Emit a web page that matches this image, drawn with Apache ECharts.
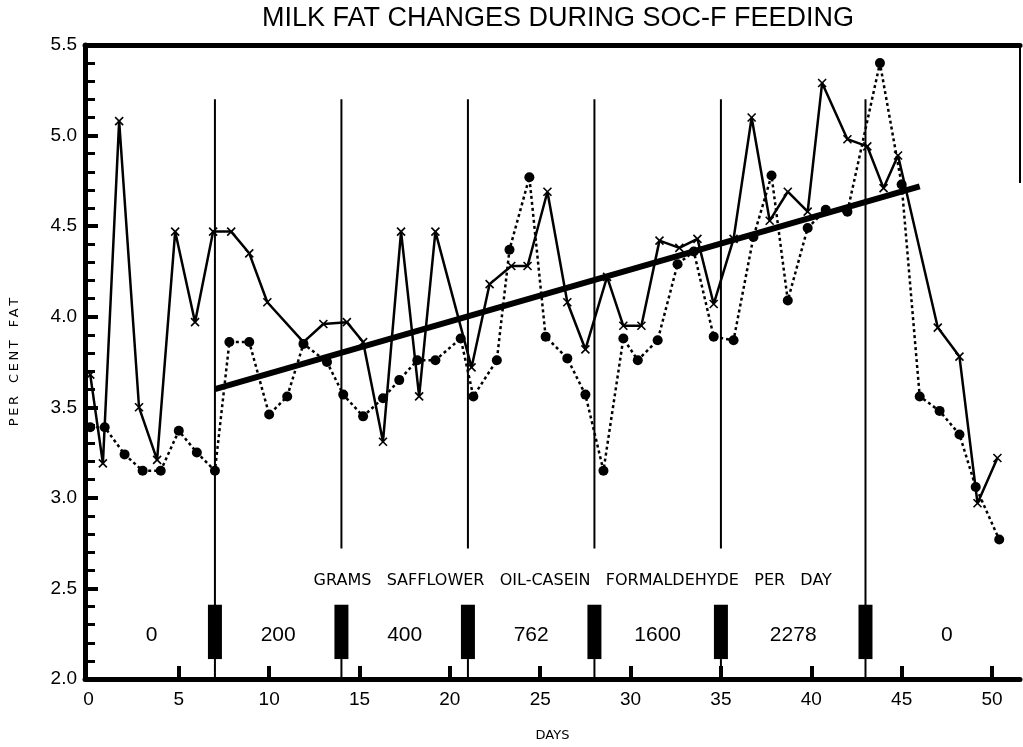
<!DOCTYPE html>
<html><head><meta charset="utf-8">
<script src="https://cdn.jsdelivr.net/npm/echarts@6/dist/echarts.min.js"></script>
<style>html,body{margin:0;padding:0;background:#fff}#c{width:1023px;height:747px}</style>
</head><body><div id="c"></div>
<script>
const titleText = 'MILK FAT CHANGES DURING SOC-F FEEDING';
const xTickValues = [0, 5, 10, 15, 20, 25, 30, 35, 40, 45, 50];
const xInnerTicks = [5, 10, 15, 20, 25, 30, 35, 40, 45, 50];

// solid line with x markers
const crossDays = [0.1, 0.8, 1.7, 2.8, 3.8, 4.8, 5.9, 6.9, 7.9, 8.9, 9.9, 11.9, 13.0, 14.3, 15.2, 16.3, 17.3, 18.3, 19.2, 21.2, 22.2, 23.4, 24.3, 25.4, 26.5, 27.5, 28.7, 29.6, 30.6, 31.6, 32.7, 33.7, 34.6, 35.7, 36.7, 37.7, 38.7, 39.8, 40.6, 42.0, 43.1, 44.0, 44.8, 47.0, 48.2, 49.2, 50.3];
const crossFat = [3.68, 3.19, 5.08, 3.50, 3.21, 4.47, 3.97, 4.47, 4.47, 4.35, 4.08, 3.86, 3.96, 3.97, 3.86, 3.31, 4.47, 3.56, 4.47, 3.72, 4.18, 4.28, 4.28, 4.69, 4.08, 3.82, 4.22, 3.95, 3.95, 4.42, 4.38, 4.43, 4.07, 4.43, 5.10, 4.53, 4.69, 4.58, 5.29, 4.98, 4.94, 4.71, 4.89, 3.94, 3.78, 2.97, 3.22];

// dotted line with filled dots
const dotDays = [0.1, 0.9, 2.0, 3.0, 4.0, 5.0, 6.0, 7.0, 7.8, 8.9, 10.0, 11.0, 11.9, 13.2, 14.1, 15.2, 16.3, 17.2, 18.2, 19.2, 20.6, 21.3, 22.6, 23.3, 24.4, 25.3, 26.5, 27.5, 28.5, 29.6, 30.4, 31.5, 32.6, 33.5, 34.6, 35.7, 36.8, 37.8, 38.7, 39.8, 40.8, 42.0, 43.8, 45.0, 46.0, 47.1, 48.2, 49.1, 50.4];
const dotFat = [3.39, 3.39, 3.24, 3.15, 3.15, 3.37, 3.25, 3.15, 3.86, 3.86, 3.46, 3.56, 3.85, 3.75, 3.57, 3.45, 3.55, 3.65, 3.76, 3.76, 3.88, 3.56, 3.76, 4.37, 4.77, 3.89, 3.77, 3.57, 3.15, 3.88, 3.76, 3.87, 4.29, 4.36, 3.89, 3.87, 4.44, 4.78, 4.09, 4.49, 4.59, 4.58, 5.40, 4.73, 3.56, 3.48, 3.35, 3.06, 2.77];

// regression line
const trendDays = [7, 46];
const trendFat = [3.60, 4.72];

// feeding periods
const periodBounds = [0, 7, 14, 21, 28, 35, 43, 52];
const doseLabels = ['0', '200', '400', '762', '1600', '2278', '0'];
const doseCaption = 'GRAMS   SAFFLOWER   OIL-CASEIN   FORMALDEHYDE   PER   DAY';
const dividerTop = 5.2;
const blockRange = [2.11, 2.41];
const textGapTop = 2.72;
const captionPos = [26.8, 2.54];
const doseLabelY = 2.24;

const spaced = s => s.split('').join('\u2009');
const pair = (xs, ys) => xs.map((x, i) => [x, ys[i]]);
const changeDays = periodBounds.slice(1, -1);
const doseData = doseLabels.map((t, i) => [(periodBounds[i] + periodBounds[i + 1]) / 2, doseLabelY, t]);

const FONT = '"Liberation Sans", Arial, sans-serif';
const chart = echarts.init(document.getElementById('c'), null, {renderer: 'canvas'});

chart.setOption({
  backgroundColor: '#fff',
  animation: false,
  grid: {left: 85, right: 3, top: 45, bottom: 65, containLabel: false},
  graphic: [
    {type: 'text', x: 558, y: 19, style: {text: titleText, font: '27px ' + FONT, fill: '#000', textAlign: 'center', textVerticalAlign: 'middle'}},
    {type: 'line', shape: {x1: 1020, y1: 44, x2: 1020, y2: 183}, style: {stroke: '#000', lineWidth: 2}}
  ],
  xAxis: [{
    type: 'value', min: -0.19, max: 51.55, position: 'bottom',
    name: 'DAYS', nameLocation: 'middle', nameGap: 50,
    nameTextStyle: {fontFamily: '"DejaVu Sans", sans-serif', fontSize: 13, color: '#000'},
    axisLine: {show: true, onZero: false, lineStyle: {color: '#000', width: 5}},
    axisTick: {show: true, inside: true, length: 13, customValues: xInnerTicks, lineStyle: {color: '#000', width: 4}},
    axisLabel: {show: true, customValues: xTickValues, margin: 11, fontFamily: FONT, fontSize: 19, color: '#000'},
    splitLine: {show: false}
  }, {
    type: 'value', min: -0.19, max: 51.55, position: 'top',
    axisLine: {show: true, onZero: false, lineStyle: {color: '#000', width: 5}},
    axisTick: {show: false}, axisLabel: {show: false}, splitLine: {show: false}
  }],
  yAxis: {
    type: 'value', min: 2.0, max: 5.5, interval: 0.5,
    name: spaced('PER') + '\u2003' + spaced('CENT') + '\u2003' + spaced('FAT'), nameLocation: 'middle', nameGap: 64, nameRotate: 90,
    nameTextStyle: {fontFamily: '"DejaVu Sans", sans-serif', fontSize: 13, color: '#000'},
    axisLine: {show: true, onZero: false, lineStyle: {color: '#000', width: 5}},
    axisTick: {show: true, inside: true, length: 13, lineStyle: {color: '#000', width: 4}},
    minorTick: {show: true, splitNumber: 5, length: 10, lineStyle: {color: '#000', width: 3}},
    axisLabel: {margin: 8, fontFamily: FONT, fontSize: 19, color: '#000', formatter: v => v.toFixed(1)},
    splitLine: {show: false}
  },
  series: [
    {
      type: 'custom', name: 'dividers', silent: true, z: 1,
      data: changeDays.map(d => [d]),
      renderItem: (params, api) => {
        const d = api.value(0);
        const top = api.coord([d, dividerTop]);
        const bot = api.coord([d, 2.0]);
        const bTop = api.coord([d, blockRange[1]]);
        const bBot = api.coord([d, blockRange[0]]);
        const full = params.dataIndex === 0 || params.dataIndex === changeDays.length - 1;
        const children = [];
        const ls = {stroke: '#000', lineWidth: 2};
        if (full) {
          children.push({type: 'line', shape: {x1: top[0], y1: top[1], x2: bot[0], y2: bot[1]}, style: ls});
        } else {
          const gap = api.coord([d, textGapTop]);
          children.push({type: 'line', shape: {x1: top[0], y1: top[1], x2: gap[0], y2: gap[1]}, style: ls});
          children.push({type: 'line', shape: {x1: bBot[0], y1: bBot[1], x2: bot[0], y2: bot[1]}, style: ls});
        }
        children.push({type: 'rect', shape: {x: bTop[0] - 7, y: bTop[1], width: 14, height: bBot[1] - bTop[1]}, style: {fill: '#000'}});
        return {type: 'group', children};
      }
    },
    {
      type: 'custom', name: 'doses', silent: true, z: 2,
      data: doseData,
      renderItem: (params, api) => {
        const p = api.coord([api.value(0), api.value(1)]);
        return {type: 'text', x: p[0], y: p[1], style: {text: doseLabels[params.dataIndex], font: '21px ' + FONT, fill: '#000', textAlign: 'center', textVerticalAlign: 'middle'}};
      }
    },
    {
      type: 'custom', name: 'caption', silent: true, z: 2,
      data: [captionPos],
      renderItem: (params, api) => {
        const p = api.coord([api.value(0), api.value(1)]);
        return {type: 'text', x: p[0], y: p[1], style: {text: doseCaption, font: '16px "DejaVu Sans", sans-serif', fill: '#000', textAlign: 'center', textVerticalAlign: 'middle'}};
      }
    },
    {
      type: 'line', name: 'trend', data: pair(trendDays, trendFat), symbol: 'none', z: 3,
      lineStyle: {color: '#000', width: 6}
    },
    {
      type: 'line', name: 'dots', data: pair(dotDays, dotFat), z: 4,
      symbol: 'circle', symbolSize: 10,
      itemStyle: {color: '#000'},
      lineStyle: {color: '#000', width: 2.5, type: [3, 3]}
    },
    {
      type: 'line', name: 'crosses', data: pair(crossDays, crossFat), z: 5,
      symbol: 'path://M0,0L10,10M10,0L0,10', symbolSize: 8, symbolKeepAspect: true,
      itemStyle: {color: '#000', borderColor: '#000', borderWidth: 1.6},
      lineStyle: {color: '#000', width: 2.5}
    }
  ]
});
</script>
</body></html>
